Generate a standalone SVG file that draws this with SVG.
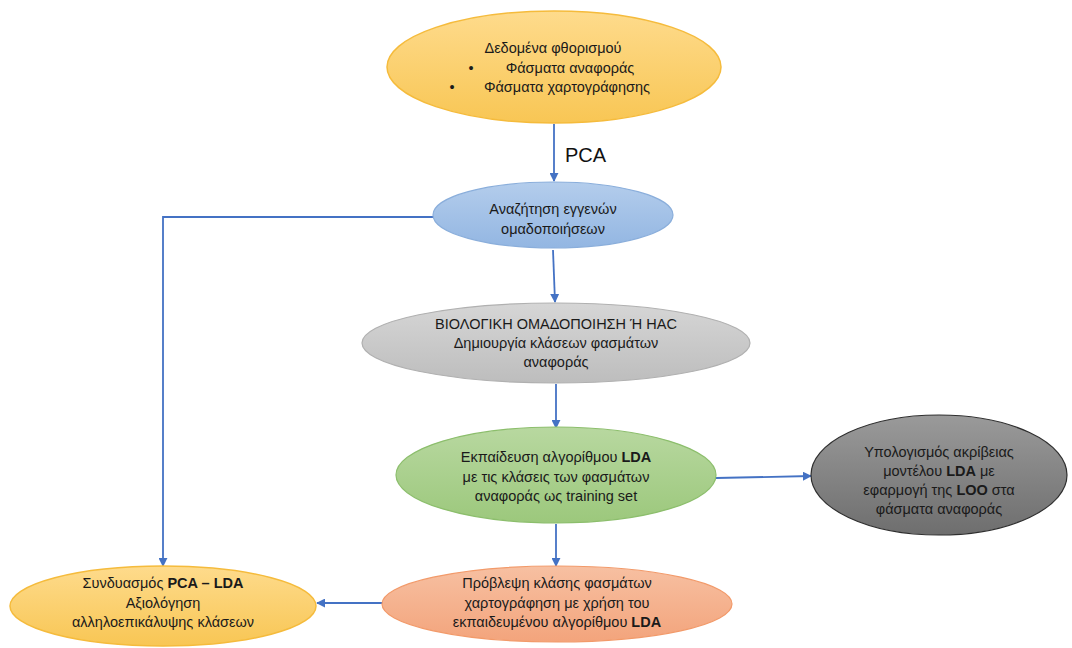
<svg xmlns="http://www.w3.org/2000/svg" width="1072" height="648" viewBox="0 0 1072 648">
  <defs>
    <linearGradient id="gYellow" x1="0" y1="0" x2="0" y2="1">
      <stop offset="0" stop-color="#fedb8c"/>
      <stop offset="1" stop-color="#f8c654"/>
    </linearGradient>
    <linearGradient id="gBlue" x1="0" y1="0" x2="0" y2="1">
      <stop offset="0" stop-color="#b4cdec"/>
      <stop offset="1" stop-color="#93b6e2"/>
    </linearGradient>
    <linearGradient id="gGray" x1="0" y1="0" x2="0" y2="1">
      <stop offset="0" stop-color="#d6d6d6"/>
      <stop offset="1" stop-color="#bdbdbd"/>
    </linearGradient>
    <linearGradient id="gGreen" x1="0" y1="0" x2="0" y2="1">
      <stop offset="0" stop-color="#b8d8a0"/>
      <stop offset="1" stop-color="#9cc87c"/>
    </linearGradient>
    <linearGradient id="gDark" x1="0" y1="0" x2="0" y2="1">
      <stop offset="0" stop-color="#9a9a9a"/>
      <stop offset="1" stop-color="#6e6e6e"/>
    </linearGradient>
    <linearGradient id="gOrange" x1="0" y1="0" x2="0" y2="1">
      <stop offset="0" stop-color="#f7c0a2"/>
      <stop offset="1" stop-color="#f3a47c"/>
    </linearGradient>
    <marker id="arrow" viewBox="0 0 10 10" refX="9" refY="5" markerWidth="5" markerHeight="5" orient="auto" markerUnits="strokeWidth">
      <path d="M0,0 L10,5 L0,10 Z" fill="#4472c4"/>
    </marker>
  </defs>
  <style>
    .lbl { font-family: "Liberation Sans", "Noto Sans", sans-serif; font-size: 14.5px; fill: #1a1a1a; text-anchor: middle; }
    .conn { fill: none; stroke: #4472c4; stroke-width: 1.8; marker-end: url(#arrow); }
    .b { font-weight: bold; }
  </style>
  <rect width="1072" height="648" fill="#ffffff"/>

  <g id="connectors">
    <line class="conn" x1="554" y1="124" x2="554" y2="181"/>
    <polyline class="conn" points="434,217 163,217 163,566"/>
    <line class="conn" x1="553" y1="250" x2="555" y2="302"/>
    <line class="conn" x1="556" y1="384" x2="556" y2="428"/>
    <line class="conn" x1="716" y1="478" x2="811" y2="476"/>
    <line class="conn" x1="556" y1="524" x2="556" y2="566"/>
    <line class="conn" x1="383" y1="603" x2="317" y2="603"/>
    <text x="565" y="162" style="font-family:'Liberation Sans','Noto Sans',sans-serif;font-size:20px;fill:#111">PCA</text>
  </g>

  <g id="node-data">
    <ellipse cx="554" cy="67" rx="167" ry="56" fill="url(#gYellow)" stroke="#f5bb3c" stroke-width="1.5"/>
    <text class="lbl" x="553" y="53">Δεδομένα φθορισμού</text>
    <text class="lbl" x="471" y="73">•</text>
    <text class="lbl" x="570" y="73">Φάσματα αναφοράς</text>
    <text class="lbl" x="452" y="92">•</text>
    <text class="lbl" x="567" y="92">Φάσματα χαρτογράφησης</text>
  </g>

  <g id="node-search">
    <ellipse cx="553" cy="215" rx="120" ry="33" fill="url(#gBlue)" stroke="#8aaedb" stroke-width="1.2"/>
    <text class="lbl" x="553" y="214">Αναζήτηση εγγενών</text>
    <text class="lbl" x="553" y="234">ομαδοποιήσεων</text>
  </g>

  <g id="node-clustering">
    <ellipse cx="556" cy="343" rx="194" ry="40" fill="url(#gGray)" stroke="#b0b0b0" stroke-width="1.2"/>
    <text class="lbl" x="556" y="329">ΒΙΟΛΟΓΙΚΗ ΟΜΑΔΟΠΟΙΗΣΗ Ή HAC</text>
    <text class="lbl" x="556" y="348">Δημιουργία κλάσεων φασμάτων</text>
    <text class="lbl" x="556" y="367">αναφοράς</text>
  </g>

  <g id="node-training">
    <ellipse cx="556" cy="475" rx="160" ry="48" fill="url(#gGreen)" stroke="#8cbe6c" stroke-width="1.2"/>
    <text class="lbl" x="556" y="462">Εκπαίδευση αλγορίθμου <tspan class="b">LDA</tspan></text>
    <text class="lbl" x="556" y="482">με τις κλάσεις των φασμάτων</text>
    <text class="lbl" x="556" y="501">αναφοράς ως training set</text>
  </g>

  <g id="node-accuracy">
    <ellipse cx="939" cy="475" rx="128" ry="60" fill="url(#gDark)" stroke="#2e2e2e" stroke-width="1.2"/>
    <text class="lbl" x="939" y="457">Υπολογισμός ακρίβειας</text>
    <text class="lbl" x="939" y="476">μοντέλου <tspan class="b">LDA</tspan> με</text>
    <text class="lbl" x="939" y="495">εφαρμογή της <tspan class="b">LOO</tspan> στα</text>
    <text class="lbl" x="939" y="514">φάσματα αναφοράς</text>
  </g>

  <g id="node-prediction">
    <ellipse cx="557" cy="604" rx="175" ry="38" fill="url(#gOrange)" stroke="#f29a6a" stroke-width="1.2"/>
    <text class="lbl" x="557" y="588">Πρόβλεψη κλάσης φασμάτων</text>
    <text class="lbl" x="557" y="608">χαρτογράφηση με χρήση του</text>
    <text class="lbl" x="557" y="627">εκπαιδευμένου αλγορίθμου <tspan class="b">LDA</tspan></text>
  </g>

  <g id="node-combination">
    <ellipse cx="163" cy="606" rx="153" ry="40" fill="url(#gYellow)" stroke="#f5bb3c" stroke-width="1.5"/>
    <text class="lbl" x="163" y="588">Συνδυασμός <tspan class="b">PCA – LDA</tspan></text>
    <text class="lbl" x="163" y="608">Αξιολόγηση</text>
    <text class="lbl" x="163" y="627">αλληλοεπικάλυψης κλάσεων</text>
  </g>
</svg>
